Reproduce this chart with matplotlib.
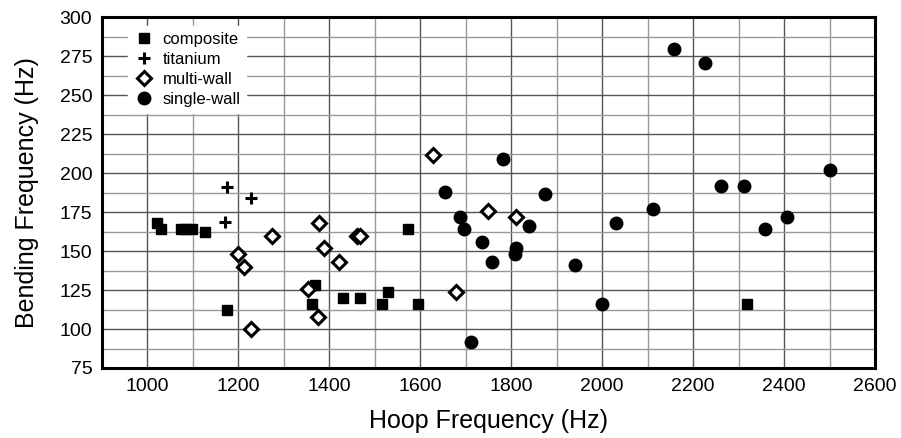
import matplotlib
matplotlib.use("Agg")
import matplotlib.pyplot as plt
from matplotlib.ticker import MultipleLocator

plt.rcParams['font.family'] = ['Liberation Sans', 'DejaVu Sans']

composite_x = [1020, 1029, 1073, 1085, 1097, 1126, 1175, 1368, 1361, 1430, 1467, 1528, 1516, 1596, 1572, 2318]
composite_y = [168, 164, 164, 164, 164, 162, 112, 128, 116, 120, 120, 124, 116, 116, 164, 116]

titanium_x = [1174, 1227, 1170]
titanium_y = [191, 184, 169]

multiwall_x = [1273, 1200, 1212, 1227, 1353, 1375, 1377, 1388, 1421, 1460, 1468, 1628, 1748, 1811, 1679]
multiwall_y = [160, 148, 140, 100, 126, 108, 168, 152, 143, 160, 160, 212, 176, 172, 124]

singlewall_x = [1782, 1655, 1874, 1688, 1696, 1839, 1736, 1811, 1808, 1758, 1940, 1712,
                2157, 2227, 2031, 2112, 2262, 2311, 2359, 2406, 2500, 2000]
singlewall_y = [209, 188, 187, 172, 164, 166, 156, 152, 148, 143, 141, 92,
                280, 271, 168, 177, 192, 192, 164, 172, 202, 116]

x_ticks = [1000, 1200, 1400, 1600, 1800, 2000, 2200, 2400, 2600]
y_ticks = [75, 100, 125, 150, 175, 200, 225, 250, 275, 300]

fig = plt.figure(figsize=(9.01, 4.38), dpi=100)
ax = fig.add_axes([102/901, 1 - 368/438, (875-102)/901, (368-17.5)/438])

ax.set_xlim(900, 2600)
ax.set_ylim(75, 300)
ax.xaxis.set_major_locator(MultipleLocator(200))
ax.xaxis.set_minor_locator(MultipleLocator(100))
ax.yaxis.set_major_locator(MultipleLocator(25))
ax.yaxis.set_minor_locator(MultipleLocator(12.5))
ax.set_xticks(x_ticks)
ax.set_yticks(y_ticks)
ax.grid(True, which='major', color='#555555', linewidth=1.0)
ax.grid(True, which='minor', color='#999999', linewidth=1.0)
ax.set_axisbelow(True)
ax.tick_params(which='both', length=0, labelsize=14, pad=7)
for s in ax.spines.values():
    s.set_linewidth(2.2)
    s.set_color('black')

ax.plot(composite_x, composite_y, linestyle='none', marker='s', markersize=7.8,
        color='black', label='composite', zorder=3)
ax.plot(titanium_x, titanium_y, linestyle='none', marker='+', markersize=9,
        markeredgewidth=2.2, color='black', label='titanium', zorder=3)
ax.plot(multiwall_x, multiwall_y, linestyle='none', marker='D', markersize=7.2,
        markerfacecolor='white', markeredgecolor='black', markeredgewidth=2.2,
        label='multi-wall', zorder=3)
ax.plot(singlewall_x, singlewall_y, linestyle='none', marker='o', markersize=9,
        color='black', label='single-wall', zorder=3)

ax.set_xlabel('Hoop Frequency (Hz)', fontsize=18, labelpad=10)
ax.set_ylabel('Bending Frequency (Hz)', fontsize=18, labelpad=15)

leg = ax.legend(loc='upper left', bbox_to_anchor=(0.034, 0.975), frameon=True,
                fontsize=12, handletextpad=0.5, labelspacing=0.3,
                borderpad=0.35, handlelength=1.2, borderaxespad=0)
leg.get_frame().set_edgecolor('white')
leg.get_frame().set_facecolor('white')
leg.get_frame().set_alpha(1)
leg.get_frame().set_boxstyle('square', pad=0.0)

fig.savefig('out.png', dpi=100)
